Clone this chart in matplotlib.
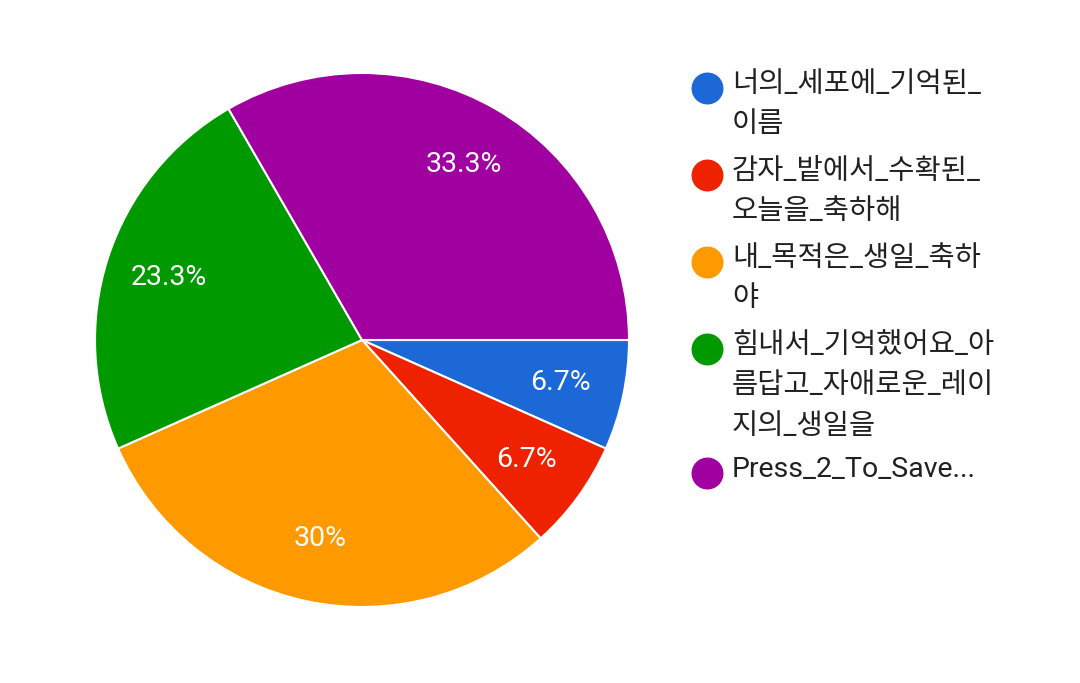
import matplotlib as mpl
mpl.use('Agg')
import matplotlib.pyplot as plt

# poll answers (counts out of 30 responses)
labels = ["너의_세포에_기억된_\n이름",
          "감자_밭에서_수확된_\n오늘을_축하해",
          "내_목적은_생일_축하\n야",
          "힘내서_기억했어요_아\n름답고_자애로운_레이\n지의_생일을",
          "Press_2_To_Save..."]
counts = [2, 2, 9, 7, 10]
colors = ["#1c68d6", "#ef2200", "#ff9900", "#009900", "#a0009f"]

FONTS = ['Roboto', 'Noto Sans CJK KR', 'DejaVu Sans']
plt.rcParams['font.family'] = FONTS

W, H = 1080, 683
fig = plt.figure(figsize=(W / 100, H / 100), dpi=100)
fig.patch.set_facecolor('white')

# pie placed in pixel coords: centre (362, 340), radius 267
cx, cy, r = 362, 340, 267
ax = fig.add_axes([(cx - r) / W, (H - cy - r) / H, 2 * r / W, 2 * r / H])
wedges, texts, autotexts = ax.pie(
    counts, colors=colors, startangle=0, counterclock=False,
    autopct=lambda p: ('%.1f%%' % p).replace('.0%', '%'),
    pctdistance=0.76, radius=1,
    wedgeprops=dict(edgecolor='white', linewidth=1.5),
    textprops=dict(color='white', fontsize=20.5))
ax.set_xlim(-1, 1)
ax.set_ylim(-1, 1)
ax.axis('off')

# legend drawn by hand so that wrapped lines sit like the reference
line_h = 37
gap = 50
y = 88
for lab, col in zip(labels, colors):
    fig.lines.append(plt.Line2D([707 / W], [1 - y / H], marker='o', markersize=22,
                                color=col, markeredgecolor=col, transform=fig.transFigure))
    fig.text(732 / W, 1 - (y - 17) / H, lab, fontsize=20.5, color='#212121',
             va='top', ha='left', linespacing=1.64,
             transform=fig.transFigure)
    y += line_h * (lab.count('\n')) + gap

fig.savefig('out.png', dpi=100, facecolor='white')
